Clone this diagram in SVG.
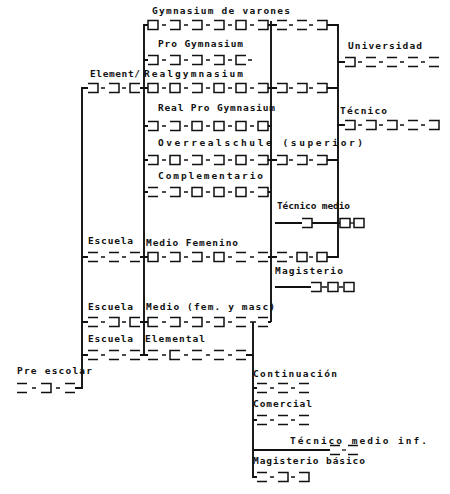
<svg xmlns="http://www.w3.org/2000/svg" xmlns:xlink="http://www.w3.org/1999/xlink" width="450" height="494" viewBox="0 0 450 494">
<style>
.t{font-family:"DejaVu Sans Mono","Liberation Mono",monospace;font-weight:bold;font-size:9.5px;fill:#111}
.b{fill:none;stroke:#111;stroke-width:1.5}
.d{fill:none;stroke:#111;stroke-width:1.3}
.c{fill:none;stroke:#111;stroke-width:1.9}
</style>
<defs>
<rect id="sq" class="b" width="10" height="9"/>
<path id="br" class="b" d="M0,0H10V9H0"/>
<path id="bl" class="b" d="M10,0H0V9H10"/>
<path id="eq" class="b" d="M0,0H10M0,9H10"/>
</defs>
<rect width="450" height="494" fill="#fff"/>

<g id="connectors">
<path class="c" d="M88,88H82V388H75"/>
<path class="c" d="M82,257H88M82,322H88M82,355H88"/>
<path class="c" d="M148,25H144V355H148"/>
<path class="c" d="M140,88H148M144,60H148M144,126H148M144,160H148M144,192H148M140,257H148M140,322H148M140,355H144"/>
<path class="c" d="M271,21V322"/>
<path class="c" d="M268,25H277M268,88H277M268,160H277M268,126H271M268,192H271M268,257H277M268,322H271M275,223H302M275,287H311"/>
<path class="c" d="M327,25H338V257H327"/>
<path class="c" d="M327,88H338M327,160H338M338,62H345M338,125H345M312,223H340"/>
<path class="c" d="M253,322V477H257"/>
<path class="c" d="M246,355H253M253,388H257M253,420H257M253,450H330"/>
</g>

<g id="gymnasium-varones">
<text class="t" x="152" y="13.5" textLength="138" lengthAdjust="spacing">Gymnasium de varones</text>
<use href="#sq" x="148" y="20.5"/><use href="#br" x="170" y="20.5"/><use href="#br" x="192" y="20.5"/><use href="#br" x="214" y="20.5"/><use href="#sq" x="236" y="20.5"/><use href="#br" x="258" y="20.5"/>
<path class="d" d="M162,25H166M184,25H188M206,25H210M228,25H232M250,25H254"/>
<use href="#eq" x="277" y="20.5"/><use href="#eq" x="297" y="20.5"/><use href="#br" x="317" y="20.5"/>
<path class="d" d="M289,25H293M309,25H313"/>
</g>

<g id="pro-gymnasium">
<text class="t" x="158" y="46.5" textLength="85" lengthAdjust="spacing">Pro Gymnasium</text>
<use href="#br" x="148" y="55.5"/><use href="#br" x="170" y="55.5"/><use href="#br" x="192" y="55.5"/><use href="#br" x="214" y="55.5"/><use href="#bl" x="236" y="55.5"/>
<path class="d" d="M162,60H166M184,60H188M206,60H210M228,60H232M248,60H252"/>
</g>

<g id="element">
<text class="t" x="90" y="76.5" textLength="50" lengthAdjust="spacing">Element/</text>
<use href="#br" x="88" y="83.5"/><use href="#br" x="109" y="83.5"/><use href="#bl" x="130" y="83.5"/>
<path class="d" d="M101,88H105M122,88H126"/>
</g>

<g id="realgymnasium">
<text class="t" x="144" y="76.5" textLength="99" lengthAdjust="spacing">Realgymnasium</text>
<use href="#sq" x="148" y="83.5"/><use href="#sq" x="170" y="83.5"/><use href="#br" x="192" y="83.5"/><use href="#sq" x="214" y="83.5"/><use href="#sq" x="236" y="83.5"/><use href="#br" x="258" y="83.5"/>
<path class="d" d="M162,88H166M184,88H188M206,88H210M228,88H232M250,88H254"/>
<use href="#br" x="277" y="83.5"/><use href="#br" x="297" y="83.5"/><use href="#br" x="317" y="83.5"/>
<path class="d" d="M289,88H293M309,88H313"/>
</g>

<g id="real-pro-gymnasium">
<text class="t" x="158" y="110.5" textLength="117" lengthAdjust="spacing">Real Pro Gymnasium</text>
<use href="#br" x="148" y="121.5"/><use href="#br" x="170" y="121.5"/><use href="#sq" x="192" y="121.5"/><use href="#sq" x="214" y="121.5"/><use href="#sq" x="236" y="121.5"/><use href="#sq" x="258" y="121.5"/>
<path class="d" d="M162,126H166M184,126H188M206,126H210M228,126H232M250,126H254"/>
</g>

<g id="overrealschule">
<text class="t" x="158" y="145.5" textLength="205" lengthAdjust="spacing">Overrealschule (superior)</text>
<use href="#br" x="148" y="155.5"/><use href="#sq" x="170" y="155.5"/><use href="#br" x="192" y="155.5"/><use href="#br" x="214" y="155.5"/><use href="#sq" x="236" y="155.5"/><use href="#br" x="258" y="155.5"/>
<path class="d" d="M162,160H166M184,160H188M206,160H210M228,160H232M250,160H254"/>
<use href="#br" x="277" y="155.5"/><use href="#br" x="297" y="155.5"/><use href="#br" x="317" y="155.5"/>
<path class="d" d="M289,160H293M309,160H313"/>
</g>

<g id="complementario">
<text class="t" x="158" y="178.5" textLength="105" lengthAdjust="spacing">Complementario</text>
<use href="#eq" x="148" y="187.5"/><use href="#br" x="170" y="187.5"/><use href="#sq" x="192" y="187.5"/><use href="#sq" x="214" y="187.5"/><use href="#sq" x="236" y="187.5"/><use href="#br" x="258" y="187.5"/>
<path class="d" d="M162,192H166M184,192H188M206,192H210M228,192H232M250,192H254"/>
</g>

<g id="universidad">
<text class="t" x="348" y="48.5" textLength="74" lengthAdjust="spacing">Universidad</text>
<use href="#br" x="345" y="57.5"/><use href="#eq" x="366" y="57.5"/><use href="#eq" x="387" y="57.5"/><use href="#eq" x="408" y="57.5"/><use href="#eq" x="429" y="57.5"/>
<path class="d" d="M358,62H362M379,62H383M400,62H404M421,62H425"/>
</g>

<g id="tecnico">
<text class="t" x="340" y="113.5" textLength="47" lengthAdjust="spacing">Técnico</text>
<use href="#br" x="345" y="120.5"/><use href="#br" x="366" y="120.5"/><use href="#br" x="387" y="120.5"/><use href="#eq" x="408" y="120.5"/><use href="#br" x="429" y="120.5"/>
<path class="d" d="M358,125H362M379,125H383M400,125H404M421,125H425"/>
</g>

<g id="tecnico-medio">
<text class="t" x="277" y="208.5" textLength="73" lengthAdjust="spacing">Técnico medio</text>
<use href="#br" x="302" y="218.5"/><use href="#sq" x="340" y="218.5"/><use href="#sq" x="354" y="218.5"/>
<path class="d" d="M350,223H354"/>
</g>

<g id="escuela-femenino">
<text class="t" x="88" y="243.5" textLength="45" lengthAdjust="spacing">Escuela</text>
<use href="#eq" x="88" y="252.5"/><use href="#eq" x="109" y="252.5"/><use href="#eq" x="130" y="252.5"/>
<path class="d" d="M101,257H105M122,257H126"/>
</g>

<g id="medio-femenino">
<text class="t" x="146" y="245.5" textLength="92" lengthAdjust="spacing">Medio Femenino</text>
<use href="#sq" x="148" y="252.5"/><use href="#br" x="170" y="252.5"/><use href="#br" x="192" y="252.5"/><use href="#sq" x="214" y="252.5"/><use href="#eq" x="236" y="252.5"/><use href="#eq" x="258" y="252.5"/>
<path class="d" d="M162,257H166M184,257H188M206,257H210M228,257H232M250,257H254"/>
<use href="#eq" x="277" y="252.5"/><use href="#sq" x="297" y="252.5"/><use href="#sq" x="317" y="252.5"/>
<path class="d" d="M289,257H293M309,257H313"/>
</g>

<g id="magisterio">
<text class="t" x="275" y="273.5" textLength="68" lengthAdjust="spacing">Magisterio</text>
<use href="#br" x="311" y="282.5"/><use href="#sq" x="328" y="282.5"/><use href="#sq" x="344" y="282.5"/>
<path class="d" d="M322,287H327M339,287H343"/>
</g>

<g id="escuela-medio">
<text class="t" x="88" y="309.5" textLength="45" lengthAdjust="spacing">Escuela</text>
<use href="#eq" x="88" y="317.5"/><use href="#br" x="109" y="317.5"/><use href="#bl" x="130" y="317.5"/>
<path class="d" d="M101,322H105M122,322H126"/>
</g>

<g id="medio-mixto">
<text class="t" x="146" y="309.5" textLength="129" lengthAdjust="spacing">Medio (fem. y masc)</text>
<use href="#bl" x="148" y="317.5"/><use href="#br" x="170" y="317.5"/><use href="#br" x="192" y="317.5"/><use href="#br" x="214" y="317.5"/><use href="#eq" x="236" y="317.5"/><use href="#eq" x="258" y="317.5"/>
<path class="d" d="M162,322H166M184,322H188M206,322H210M228,322H232M250,322H256"/>
</g>

<g id="escuela-elemental">
<text class="t" x="88" y="341.5" textLength="45" lengthAdjust="spacing">Escuela</text>
<use href="#eq" x="88" y="350.5"/><use href="#eq" x="109" y="350.5"/><use href="#eq" x="130" y="350.5"/>
<path class="d" d="M101,355H105M122,355H126"/>
</g>

<g id="elemental">
<text class="t" x="145" y="341.5" textLength="60" lengthAdjust="spacing">Elemental</text>
<use href="#eq" x="148" y="350.5"/><use href="#bl" x="170" y="350.5"/><use href="#eq" x="192" y="350.5"/><use href="#eq" x="214" y="350.5"/><use href="#eq" x="236" y="350.5"/>
<path class="d" d="M162,355H166M184,355H188M206,355H210M228,355H232"/>
</g>

<g id="pre-escolar">
<text class="t" x="17" y="373.5" textLength="75" lengthAdjust="spacing">Pre escolar</text>
<use href="#eq" x="17" y="383.5"/><use href="#br" x="41" y="383.5"/><use href="#eq" x="65" y="383.5"/>
<path class="d" d="M32,388H36M56,388H60"/>
</g>

<g id="continuacion">
<text class="t" x="253" y="376.5" textLength="84" lengthAdjust="spacing">Continuación</text>
<use href="#eq" x="257" y="383.5"/><use href="#eq" x="278" y="383.5"/><use href="#eq" x="299" y="383.5"/>
<path class="d" d="M270,388H274M291,388H295"/>
</g>

<g id="comercial">
<text class="t" x="253" y="406.5" textLength="59" lengthAdjust="spacing">Comercial</text>
<use href="#eq" x="257" y="415.5"/><use href="#eq" x="278" y="415.5"/><use href="#eq" x="299" y="415.5"/>
<path class="d" d="M270,420H274M291,420H295"/>
</g>

<g id="tecnico-medio-inf">
<text class="t" x="290" y="443.5" textLength="137" lengthAdjust="spacing">Técnico medio inf.</text>
<use href="#eq" x="330" y="445.5"/><use href="#eq" x="348" y="445.5"/>
<path class="d" d="M342,450H346"/>
</g>

<g id="magisterio-basico">
<text class="t" x="253" y="463.5" textLength="112" lengthAdjust="spacing">Magisterio básico</text>
<use href="#eq" x="257" y="472.5"/><use href="#br" x="278" y="472.5"/><use href="#br" x="299" y="472.5"/>
<path class="d" d="M270,477H274M291,477H295"/>
</g>
</svg>
